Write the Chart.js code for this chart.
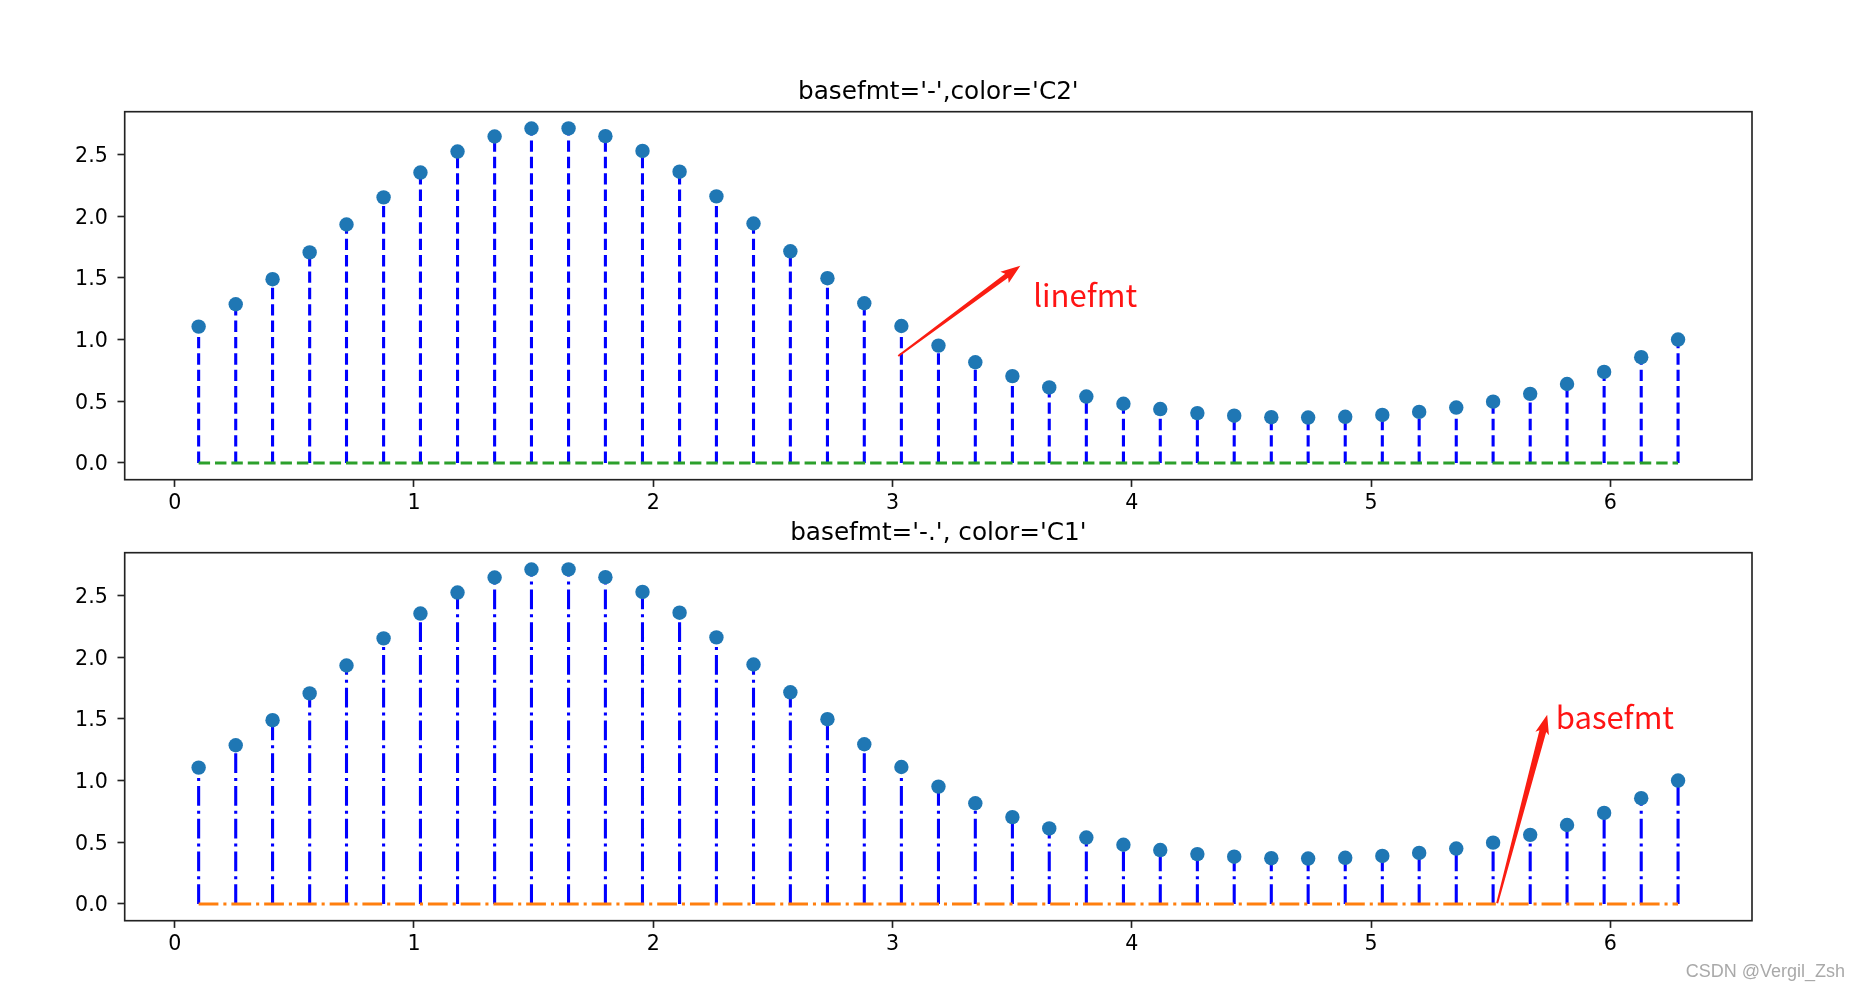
<!DOCTYPE html>
<html>
<head>
<meta charset="utf-8">
<script src="https://cdn.jsdelivr.net/npm/chart.js@4.4.0/dist/chart.umd.min.js"></script>
<style>
  html, body { margin: 0; padding: 0; background: #fff; }
  #wrap { position: relative; width: 1860px; height: 992px; overflow: hidden; }
  .box { position: absolute; left: 0; width: 1860px; }
  #box1 { top: 0; height: 540px; }
  #box2 { top: 500px; height: 492px; }
</style>
</head>
<body>
<div id="wrap">
  <div class="box" id="box1"><canvas id="chart-top"></canvas></div>
  <div class="box" id="box2"><canvas id="chart-bottom"></canvas></div>
</div>
<script>
// valores
const xValues = [0.100, 0.255, 0.409, 0.564, 0.718, 0.873, 1.027, 1.182, 1.337, 1.491,
                 1.646, 1.800, 1.955, 2.110, 2.264, 2.419, 2.573, 2.728, 2.882, 3.037,
                 3.192, 3.346, 3.501, 3.655, 3.810, 3.965, 4.119, 4.274, 4.428, 4.583,
                 4.737, 4.892, 5.047, 5.201, 5.356, 5.510, 5.665, 5.819, 5.974, 6.129, 6.283];
const yValues = [1.105, 1.286, 1.489, 1.706, 1.932, 2.152, 2.353, 2.523, 2.645, 2.710,
                 2.711, 2.648, 2.528, 2.360, 2.160, 1.940, 1.715, 1.497, 1.294, 1.110,
                 0.951, 0.816, 0.704, 0.612, 0.538, 0.480, 0.437, 0.404, 0.383, 0.371,
                 0.368, 0.374, 0.389, 0.414, 0.449, 0.497, 0.560, 0.640, 0.738, 0.857, 1.000];
const xTicks = [0, 1, 2, 3, 4, 5, 6];
const yTicks = [0.0, 0.5, 1.0, 1.5, 2.0, 2.5];
const titles = ["basefmt='-',color='C2'", "basefmt='-.', color='C1'"];

const PX = 2.06;                 // px por punto
const LW = 1.5 * PX;
const DASHED = [3.7 * LW, 1.6 * LW];
const DASHDOT = [6.4 * LW, 1.6 * LW, 1 * LW, 1.6 * LW];
const TICK_SIZE = 20.6;
const TICK_FONT = { family: 'DejaVu Sans', size: TICK_SIZE };

function stemPoints() {
    const pts = [];
    xValues.forEach((x, i) => {
        pts.push({ x: x, y: 0 }, { x: x, y: yValues[i] }, { x: x, y: null });
    });
    return pts;
}

function drawArrow(ctx, x0, y0, x1, y1, tailW, shaftW, headLen, headW, color) {
    const ang = Math.atan2(y1 - y0, x1 - x0);
    const len = Math.hypot(x1 - x0, y1 - y0);
    ctx.save();
    ctx.translate(x0, y0);
    ctx.rotate(ang);
    ctx.beginPath();
    ctx.moveTo(0, -tailW / 2);
    ctx.lineTo(len - headLen, -shaftW / 2);
    ctx.lineTo(len - headLen * 1.15, -headW / 2);
    ctx.lineTo(len, 0);
    ctx.lineTo(len - headLen * 1.15, headW / 2);
    ctx.lineTo(len - headLen, shaftW / 2);
    ctx.lineTo(0, tailW / 2);
    ctx.closePath();
    ctx.fillStyle = color;
    ctx.fill();
    ctx.restore();
}

const framePlugin = {
    id: 'frame',
    afterDraw(chart, args, opts) {
        const { ctx, chartArea: a, scales } = chart;
        const xs = scales.x, ys = scales.y;
        ctx.save();
        ctx.strokeStyle = '#222';
        ctx.lineWidth = 0.8 * PX;
        ctx.strokeRect(a.left, a.top, a.right - a.left, a.bottom - a.top);

        // etiquetas del eje y (centradas en la altura de las cifras)
        ctx.fillStyle = '#000';
        ctx.font = TICK_SIZE + 'px "DejaVu Sans"';
        ctx.textAlign = 'right';
        ctx.textBaseline = 'alphabetic';
        ys.ticks.forEach(t => {
            ctx.fillText(t.value.toFixed(1), a.left - 7 * PX - 2.5, ys.getPixelForValue(t.value) + 0.729 * TICK_SIZE / 2);
        });

        ctx.font = (12 * PX) + 'px "DejaVu Sans"';
        ctx.textAlign = 'center';
        ctx.fillText(opts.title, (a.left + a.right) / 2, a.top - 6 * PX);

        // anotaciones en rojo
        const note = opts.note;
        if (note) {
            drawArrow(ctx,
                xs.getPixelForValue(note.from[0]), ys.getPixelForValue(note.from[1]),
                xs.getPixelForValue(note.to[0]), ys.getPixelForValue(note.to[1]),
                note.tailW, note.shaftW, 17, 14, '#fa1d12');
            ctx.fillStyle = '#ff1414';
            ctx.font = '31px "Noto Sans CJK SC", "Noto Sans"';
            ctx.textAlign = 'left';
            ctx.fillText(note.text, xs.getPixelForValue(note.textAt[0]), ys.getPixelForValue(note.textAt[1]));
        }
        if (opts.watermark) {
            ctx.fillStyle = '#a9a9a9';
            ctx.font = '18px "Liberation Sans"';
            ctx.textAlign = 'right';
            ctx.textBaseline = 'middle';
            ctx.fillText(opts.watermark, 1845, chart.height - 20);
        }
        ctx.restore();
    }
};

function makeStem(canvasId, cfg) {
    const ctx = document.getElementById(canvasId).getContext('2d');
    return new Chart(ctx, {
        type: 'scatter',
        data: {
            datasets: [
                {
                    data: xValues.map((x, i) => ({ x: x, y: yValues[i] })),
                    pointRadius: 7.2,
                    pointBackgroundColor: '#1f77b4',
                    pointBorderWidth: 0,
                    showLine: false
                },
                {
                    data: [{ x: xValues[0], y: 0 }, { x: xValues[xValues.length - 1], y: 0 }],
                    showLine: true,
                    pointRadius: 0,
                    borderColor: cfg.baseColor,
                    borderWidth: LW,
                    borderDash: cfg.dash,
                    borderCapStyle: 'butt'
                },
                {
                    data: stemPoints(),
                    showLine: true,
                    spanGaps: false,
                    pointRadius: 0,
                    borderColor: '#0000ff',
                    borderWidth: LW,
                    borderDash: cfg.dash,
                    borderCapStyle: 'butt'
                }
            ]
        },
        options: {
            responsive: true,
            maintainAspectRatio: false,
            animation: false,
            events: [],
            layout: { padding: { top: cfg.top, right: 108, left: 0, bottom: 0 } },
            plugins: {
                legend: { display: false },
                tooltip: { enabled: false },
                frame: { title: cfg.title, note: cfg.note, watermark: cfg.watermark }
            },
            scales: {
                x: {
                    type: 'linear',
                    min: -0.209,
                    max: 6.592,
                    afterFit: s => { s.height = cfg.xAxisH; },
                    afterBuildTicks: s => { s.ticks = xTicks.map(v => ({ value: v })); },
                    grid: { display: true, drawOnChartArea: false, drawTicks: true, tickLength: 3.5 * PX, tickWidth: 0.8 * PX, tickColor: '#222' },
                    border: { display: false },
                    ticks: { font: TICK_FONT, color: '#000', padding: 4, autoSkip: false, maxRotation: 0, callback: v => String(v) }
                },
                y: {
                    type: 'linear',
                    min: -0.1355,
                    max: 2.846,
                    afterFit: s => { s.width = 124.7; },
                    afterBuildTicks: s => { s.ticks = yTicks.map(v => ({ value: v })); },
                    grid: { display: true, drawOnChartArea: false, drawTicks: true, tickLength: 3.5 * PX, tickWidth: 0.8 * PX, tickColor: '#222' },
                    border: { display: false },
                    ticks: { display: false, autoSkip: false }
                }
            }
        },
        plugins: [framePlugin]
    });
}

makeStem('chart-top', {
    title: titles[0],
    baseColor: '#2ca02c',
    dash: DASHED,
    top: 111.7,
    xAxisH: 60.3,
    note: { text: 'linefmt', from: [3.024, 0.867], to: [3.534, 1.598], textAt: [3.588, 1.262], tailW: 2, shaftW: 5 }
});

makeStem('chart-bottom', {
    title: titles[1],
    baseColor: '#ff7f0e',
    dash: DASHDOT,
    top: 52.7,
    xAxisH: 71.3,
    note: { text: 'basefmt', from: [5.527, 0.005], to: [5.736, 1.534], textAt: [5.772, 1.418], tailW: 2, shaftW: 7 },
    watermark: 'CSDN @Vergil_Zsh'
});
</script>
</body>
</html>
